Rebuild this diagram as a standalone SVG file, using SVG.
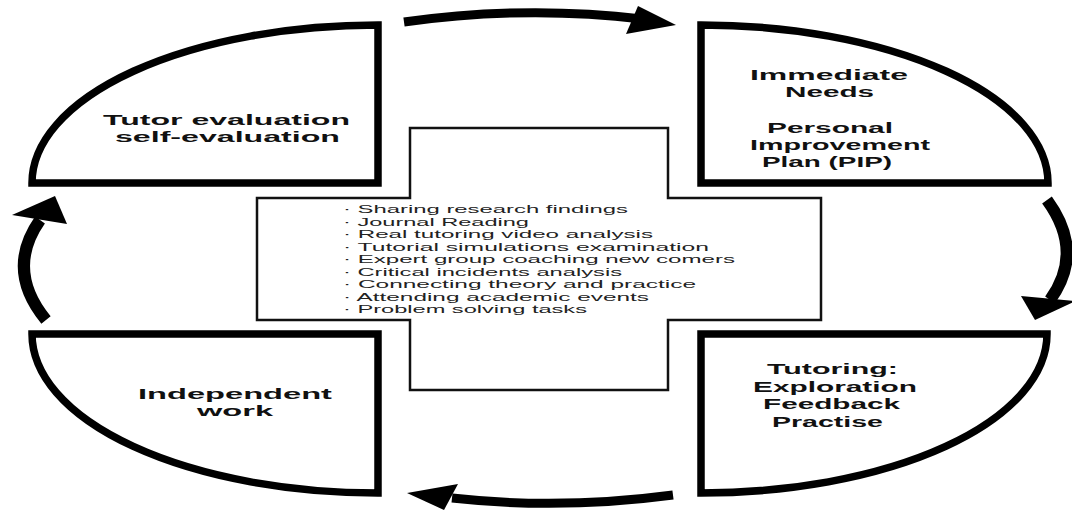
<svg xmlns="http://www.w3.org/2000/svg" width="1072" height="510" viewBox="0 0 1072 510">
  <style>
    .quad { fill: #fff; stroke: #000; stroke-width: 7.5; stroke-linejoin: miter; }
    .cross { fill: #fff; stroke: #111; stroke-width: 2.5; }
    .label { font-family: "Liberation Sans", Arial, sans-serif; font-weight: 700; font-size: 14.5px; fill: #111; }
    .item { font-family: "Liberation Sans", Arial, sans-serif; font-size: 11px; fill: #222; }
    .band { fill: none; stroke: #000; stroke-linecap: butt; }
    .head { fill: #000; }
  </style>
  <rect width="1072" height="510" fill="#fff"/>

  <!-- central cross with the list of activities -->
  <g id="activities">
    <path class="cross" d="M410,128 H668 V198 H821 V320 H668 V390 H410 V320 H257 V198 H410 Z"/>
    <text class="item" x="343" y="213" textLength="285" lengthAdjust="spacingAndGlyphs">· Sharing research findings</text>
    <text class="item" x="343" y="225.5" textLength="186" lengthAdjust="spacingAndGlyphs">· Journal Reading</text>
    <text class="item" x="343" y="238" textLength="310" lengthAdjust="spacingAndGlyphs">· Real tutoring video analysis</text>
    <text class="item" x="343" y="250.5" textLength="366" lengthAdjust="spacingAndGlyphs">· Tutorial simulations examination</text>
    <text class="item" x="343" y="263" textLength="392" lengthAdjust="spacingAndGlyphs">· Expert group coaching new comers</text>
    <text class="item" x="343" y="275.5" textLength="279" lengthAdjust="spacingAndGlyphs">· Critical incidents analysis</text>
    <text class="item" x="343" y="288" textLength="353" lengthAdjust="spacingAndGlyphs">· Connecting theory and practice</text>
    <text class="item" x="343" y="300.5" textLength="306" lengthAdjust="spacingAndGlyphs">· Attending academic events</text>
    <text class="item" x="343" y="313" textLength="244" lengthAdjust="spacingAndGlyphs">· Problem solving tasks</text>
  </g>

  <!-- top-left quadrant -->
  <g id="evaluation">
    <path class="quad" d="M378,25 V183 H32 A346,158 0 0 1 378,25 Z"/>
    <text class="label" x="103" y="125" textLength="247" lengthAdjust="spacingAndGlyphs">Tutor evaluation</text>
    <text class="label" x="115" y="141.5" textLength="225" lengthAdjust="spacingAndGlyphs">self-evaluation</text>
  </g>

  <!-- top-right quadrant -->
  <g id="needs">
    <path class="quad" d="M701,25 V183 H1048 A347,158 0 0 0 701,25 Z"/>
    <text class="label" x="750" y="80" textLength="158" lengthAdjust="spacingAndGlyphs">Immediate</text>
    <text class="label" x="785" y="97" textLength="89" lengthAdjust="spacingAndGlyphs">Needs</text>
    <text class="label" x="767" y="133" textLength="126" lengthAdjust="spacingAndGlyphs">Personal</text>
    <text class="label" x="750" y="150" textLength="180" lengthAdjust="spacingAndGlyphs">Improvement</text>
    <text class="label" x="762" y="167" textLength="130" lengthAdjust="spacingAndGlyphs">Plan (PIP)</text>
  </g>

  <!-- bottom-right quadrant -->
  <g id="tutoring">
    <path class="quad" d="M701,334 H1047 A346,159 0 0 1 701,493 Z"/>
    <text class="label" x="767" y="374" textLength="131" lengthAdjust="spacingAndGlyphs">Tutoring:</text>
    <text class="label" x="753" y="392" textLength="164" lengthAdjust="spacingAndGlyphs">Exploration</text>
    <text class="label" x="763" y="409" textLength="137" lengthAdjust="spacingAndGlyphs">Feedback</text>
    <text class="label" x="772" y="427" textLength="111" lengthAdjust="spacingAndGlyphs">Practise</text>
  </g>

  <!-- bottom-left quadrant -->
  <g id="independent">
    <path class="quad" d="M378,334 V493 A346,159 0 0 1 32,334 Z"/>
    <text class="label" x="138" y="399" textLength="194" lengthAdjust="spacingAndGlyphs">Independent</text>
    <text class="label" x="197" y="416" textLength="76" lengthAdjust="spacingAndGlyphs">work</text>
  </g>

  <!-- cycle arrows -->
  <g id="connectors">
    <path class="band" stroke-width="9" d="M404,22 Q525,5 642,19"/>
    <polygon class="head" points="638,6 676,25 626,34"/>

    <path class="band" stroke-width="12" d="M1047,200 Q1085,252 1050,300"/>
    <polygon class="head" points="1021,296 1076,301 1035,320"/>

    <path class="band" stroke-width="9" d="M673,495 Q560,510 452,498"/>
    <polygon class="head" points="458,484 407,493 444,510"/>

    <path class="band" stroke-width="12" d="M46,320 Q5,270 40,220"/>
    <polygon class="head" points="12,215 55,196 67,224"/>
  </g>
</svg>
